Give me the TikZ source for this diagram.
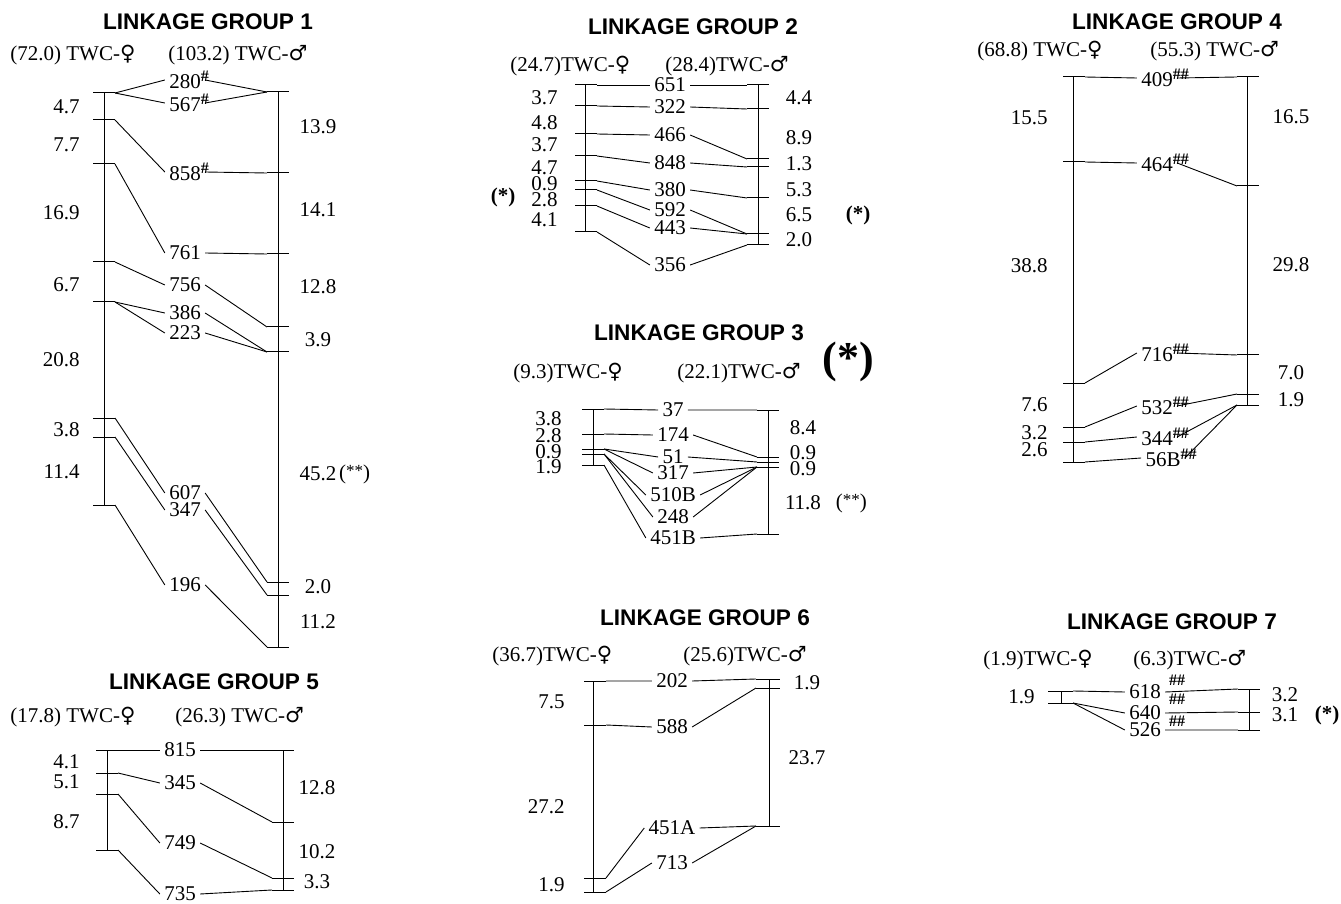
\documentclass[tikz,border=0pt]{standalone}
\usepackage{fontspec}
\setmainfont{Liberation Serif}
\newfontfamily\titlefont{Liberation Sans}
\newfontfamily\sexfont{DejaVu Sans}
\usepackage{tikz}
\usetikzlibrary{positioning}
\newcommand\femsym{{\sexfont\char"2640}}
\newcommand\malsym{{\sexfont\char"2642}}
\newcommand\onehash{\rlap{\raisebox{0.75ex}{\bfseries\fontsize{8}{9}\selectfont\#}}}
\newcommand\twohash{\rlap{\raisebox{0.75ex}{\bfseries\fontsize{8}{9}\selectfont\#\#}}}
\tikzset{
  %% -- group title --
  LG/title/.style={font=\titlefont\bfseries\fontsize{11.3}{13}\selectfont, inner sep=0pt},
  %% -- parent heading (length, sex) --
  LG/head/.style={font=\fontsize{10.5}{12}\selectfont, anchor=base west, inner sep=0pt},
  %% -- interval lengths --
  LG/fnum/.style={font=\fontsize{10.5}{12}\selectfont, anchor=east, inner sep=0pt},
  LG/mnum/.style={font=\fontsize{10.5}{12}\selectfont, inner sep=0pt},
  %% -- marker names --
  LG/mk/.style={font=\fontsize{10.5}{12}\selectfont, inner xsep=2pt, inner ysep=0.5pt},
  LG/hash/.style={font=\bfseries\fontsize{8}{9}\selectfont, inner sep=0pt},
  LG/star/.style={font=\bfseries\fontsize{10.5}{12}\selectfont, inner sep=0pt},
  LG/bigstar/.style={font=\bfseries\fontsize{22}{24}\selectfont, inner sep=0pt},
  %% -- lines --
  LG/axis/.style={line width=0.5pt},
  LG/tick/.style={line width=0.5pt},
  LG/link/.style={line width=0.45pt},
}
\newcommand\dstar{(\raisebox{.3ex}{\fontsize{8.5}{9}\selectfont**})}

\begin{document}
\begin{tikzpicture}[x=0.5pt, y=-0.5pt]
\useasboundingbox (0,0) rectangle (1341,904);

%% ---------------- Linkage group 1 ----------------
\node[LG/title] (g1t) at (208,22) {LINKAGE GROUP 1};
\node[LG/head] (g1hf) at (10,61) {(72.0) TWC-\femsym};
\node[LG/head] (g1hm) at (168,61) {(103.2) TWC-\malsym};
\draw[LG/axis] (104,93) -- (104,505);
\draw[LG/axis] (278,92) -- (278,647);
\foreach \n/\y in {a/93,b/120,c/164,d/262,e/302,f/418,g/437,h/505}{
  \coordinate (g1f\n) at (115,\y);
  \draw[LG/tick] (g1f\n) -- ++(-22,0);
}
\foreach \n/\y in {a/92,b/173,c/254,d/327,e/352,f/582,g/595,h/647}{
  \coordinate (g1m\n) at (267,\y);
  \draw[LG/tick] (g1m\n) -- ++(22,0);
}
\foreach \v/\y in {4.7/107,7.7/145,16.9/213,6.7/285,20.8/360,3.8/430,11.4/472}
  \node[LG/fnum] (g1d\y) at (80,\y) {\v};
\foreach \v/\y in {13.9/127,14.1/210,12.8/287,3.9/340,45.2/474,2.0/587,11.2/622}
  \node[LG/mnum] (g1e\y) at (318,\y) {\v};
\node[LG/mnum, anchor=west, right=1pt of g1e474] (g1ss) {\dstar};

\node[LG/mk] (k280) at (185,80)  {280\onehash};
\node[LG/mk] (k567) at (185,103) {567\onehash};
\node[LG/mk] (k858) at (185,172) {858\onehash};
\node[LG/mk] (k761) at (185,253) {761};
\node[LG/mk] (k756) at (185,285) {756};
\node[LG/mk] (k386) at (185,313) {386};
\node[LG/mk] (k223) at (185,333) {223};
\node[LG/mk] (k607) at (185,493) {607};
\node[LG/mk] (k347) at (185,510) {347};
\node[LG/mk] (k196) at (185,585) {196};

\draw[LG/link] (g1fa) -- (k280.west) (k280.east) -- (g1ma);
\draw[LG/link] (g1fa) -- (k567.west) (k567.east) -- (g1ma);
\draw[LG/link] (g1fb) -- (k858.west) (k858.east) -- (g1mb);
\draw[LG/link] (g1fc) -- (k761.west) (k761.east) -- (g1mc);
\draw[LG/link] (g1fd) -- (k756.west) (k756.east) -- (g1md);
\draw[LG/link] (g1fe) -- (k386.west) (k386.east) -- (g1me);
\draw[LG/link] (g1fe) -- (k223.west) (k223.east) -- (g1me);
\draw[LG/link] (g1ff) -- (k607.west) (k607.east) -- (g1mf);
\draw[LG/link] (g1fg) -- (k347.west) (k347.east) -- (g1mg);
\draw[LG/link] (g1fh) -- (k196.west) (k196.east) -- (g1mh);

%% ---------------- Linkage group 2 ----------------
\node[LG/title] (g2t) at (693,27) {LINKAGE GROUP 2};
\node[LG/head] (g2hf) at (510,72) {(24.7)TWC-\femsym};
\node[LG/head] (g2hm) at (665,72) {(28.4)TWC-\malsym};
\draw[LG/axis] (585,85) -- (585,232);
\draw[LG/axis] (758,85) -- (758,245);
\foreach \n/\y in {a/85,b/106,c/134,d/156,e/181,f/190,g/206,h/232}{
  \coordinate (g2f\n) at (597,\y);
  \draw[LG/tick] (g2f\n) -- ++(-22,0);
}
\foreach \n/\y in {a/85,b/109,c/159,d/167,e/198,f/234,g/245}{
  \coordinate (g2m\n) at (747,\y);
  \draw[LG/tick] (g2m\n) -- ++(22,0);
}
\foreach \v/\y in {3.7/98,4.8/123,3.7/145,4.7/168,0.9/184,2.8/200,4.1/220}
  \node[LG/fnum] (g2d\y) at (558,\y) {\v};
\foreach \v/\y in {4.4/98,8.9/138,1.3/164,5.3/190,6.5/215,2.0/240}
  \node[LG/mnum] (g2e\y) at (799,\y) {\v};
\node[LG/star] (g2sl) at (503,197) {(*)};
\node[LG/star] (g2sr) at (858,215) {(*)};

\node[LG/mk] (k651) at (670,85)  {651};
\node[LG/mk] (k322) at (670,107) {322};
\node[LG/mk] (k466) at (670,135) {466};
\node[LG/mk] (k848) at (670,163) {848};
\node[LG/mk] (k380) at (670,190) {380};
\node[LG/mk] (k592) at (670,210) {592};
\node[LG/mk] (k443) at (670,228) {443};
\node[LG/mk] (k356) at (670,265) {356};

\draw[LG/link] (g2fa) -- (k651.west) (k651.east) -- (g2ma);
\draw[LG/link] (g2fb) -- (k322.west) (k322.east) -- (g2mb);
\draw[LG/link] (g2fc) -- (k466.west) (k466.east) -- (g2mc);
\draw[LG/link] (g2fd) -- (k848.west) (k848.east) -- (g2md);
\draw[LG/link] (g2fe) -- (k380.west) (k380.east) -- (g2me);
\draw[LG/link] (g2ff) -- (k592.west) (k592.east) -- (g2mf);
\draw[LG/link] (g2fg) -- (k443.west) (k443.east) -- (g2mf);
\draw[LG/link] (g2fh) -- (k356.west) (k356.east) -- (g2mg);

%% ---------------- Linkage group 3 ----------------
\node[LG/title] (g3t) at (699,333) {LINKAGE GROUP 3};
\node[LG/bigstar] (g3big) at (848,362) {(*)};
\node[LG/head] (g3hf) at (513,379) {(9.3)TWC-\femsym};
\node[LG/head] (g3hm) at (677,379) {(22.1)TWC-\malsym};
\draw[LG/axis] (593,409) -- (593,465);
\draw[LG/axis] (768,410) -- (768,534);
\foreach \n/\y in {a/409,b/434,c/449,d/454,e/465}{
  \coordinate (g3f\n) at (604,\y);
  \draw[LG/tick] (g3f\n) -- ++(-22,0);
}
\foreach \n/\y in {a/410,b/457,c/462,d/467,e/534}{
  \coordinate (g3m\n) at (757,\y);
  \draw[LG/tick] (g3m\n) -- ++(22,0);
}
\foreach \v/\y in {3.8/419,2.8/436,0.9/452,1.9/467}
  \node[LG/fnum] (g3d\y) at (562,\y) {\v};
\foreach \v/\y in {8.4/428,0.9/453,0.9/469,11.8/503}
  \node[LG/mnum] (g3e\y) at (803,\y) {\v};
\node[LG/mnum, anchor=west, right=7pt of g3e503] (g3ss) {\dstar};

\node[LG/mk] (k37)   at (673,410) {37};
\node[LG/mk] (k174)  at (673,435) {174};
\node[LG/mk] (k51)   at (673,457) {51};
\node[LG/mk] (k317)  at (673,473) {317};
\node[LG/mk] (k510B) at (673,495) {510B};
\node[LG/mk] (k248)  at (673,517) {248};
\node[LG/mk] (k451B) at (673,538) {451B};

\draw[LG/link] (g3fa) -- (k37.west) (k37.east) -- (g3ma);
\draw[LG/link] (g3fb) -- (k174.west) (k174.east) -- (g3mb);
\draw[LG/link] (g3fc) -- (k51.west) (k51.east) -- (g3mc);
\draw[LG/link] (g3fc) -- (k317.west) (k317.east) -- (g3md);
\draw[LG/link] (g3fd) -- (k510B.west) (k510B.east) -- (g3md);
\draw[LG/link] (g3fd) -- (k248.west) (k248.east) -- (g3md);
\draw[LG/link] (g3fe) -- (k451B.west) (k451B.east) -- (g3me);

%% ---------------- Linkage group 4 ----------------
\node[LG/title] (g4t) at (1177,22) {LINKAGE GROUP 4};
\node[LG/head] (g4hf) at (977,57) {(68.8) TWC-\femsym};
\node[LG/head] (g4hm) at (1150,57) {(55.3) TWC-\malsym};
\draw[LG/axis] (1073,77) -- (1073,462);
\draw[LG/axis] (1247,77) -- (1247,405);
\foreach \n/\y in {a/77,b/162,c/383,d/427,e/442,f/462}{
  \coordinate (g4f\n) at (1085,\y);
  \draw[LG/tick] (g4f\n) -- ++(-22,0);
}
\foreach \n/\y in {a/77,b/186,c/355,d/394,e/405}{
  \coordinate (g4m\n) at (1237,\y);
  \draw[LG/tick] (g4m\n) -- ++(22,0);
}
\foreach \v/\y in {15.5/118,38.8/266,7.6/405,3.2/433,2.6/450}
  \node[LG/fnum] (g4d\y) at (1048,\y) {\v};
\foreach \v/\y in {16.5/117,29.8/265,7.0/373,1.9/400}
  \node[LG/mnum] (g4e\y) at (1291,\y) {\v};

\node[LG/mk] (k409) at (1157,78)  {409\twohash};
\node[LG/mk] (k464) at (1157,163) {464\twohash};
\node[LG/mk] (k716) at (1157,353) {716\twohash};
\node[LG/mk] (k532) at (1157,406) {532\twohash};
\node[LG/mk] (k344) at (1157,437) {344\twohash};
\node[LG/mk] (k56B) at (1163,458) {56B\twohash};

\draw[LG/link] (g4fa) -- (k409.west) (k409.east) -- (g4ma);
\draw[LG/link] (g4fb) -- (k464.west) (k464.east) -- (g4mb);
\draw[LG/link] (g4fc) -- (k716.west) (k716.east) -- (g4mc);
\draw[LG/link] (g4fd) -- (k532.west) (k532.east) -- (g4md);
\draw[LG/link] (g4fe) -- (k344.west) (k344.east) -- (g4me);
\draw[LG/link] (g4ff) -- (k56B.west) (k56B.east) -- (g4me);

%% ---------------- Linkage group 5 ----------------
\node[LG/title] (g5t) at (214,682) {LINKAGE GROUP 5};
\node[LG/head] (g5hf) at (10,722) {(17.8) TWC-\femsym};
\node[LG/head] (g5hm) at (175,722) {(26.3) TWC-\malsym};
\draw[LG/axis] (107,750) -- (107,850);
\draw[LG/axis] (283,750) -- (283,890);
\foreach \n/\y in {a/750,b/773,c/794,d/850}{
  \coordinate (g5f\n) at (118,\y);
  \draw[LG/tick] (g5f\n) -- ++(-22,0);
}
\foreach \n/\y in {a/750,b/822,c/878,d/890}{
  \coordinate (g5m\n) at (272,\y);
  \draw[LG/tick] (g5m\n) -- ++(22,0);
}
\foreach \v/\y in {4.1/762,5.1/782,8.7/822}
  \node[LG/fnum] (g5d\y) at (80,\y) {\v};
\foreach \v/\y in {12.8/788,10.2/852,3.3/882}
  \node[LG/mnum] (g5e\y) at (317,\y) {\v};

\node[LG/mk] (k815) at (180,750) {815};
\node[LG/mk] (k345) at (180,783) {345};
\node[LG/mk] (k749) at (180,843) {749};
\node[LG/mk] (k735) at (180,894) {735};

\draw[LG/link] (g5fa) -- (k815.west) (k815.east) -- (g5ma);
\draw[LG/link] (g5fb) -- (k345.west) (k345.east) -- (g5mb);
\draw[LG/link] (g5fc) -- (k749.west) (k749.east) -- (g5mc);
\draw[LG/link] (g5fd) -- (k735.west) (k735.east) -- (g5md);

%% ---------------- Linkage group 6 ----------------
\node[LG/title] (g6t) at (705,618) {LINKAGE GROUP 6};
\node[LG/head] (g6hf) at (492,661) {(36.7)TWC-\femsym};
\node[LG/head] (g6hm) at (683,661) {(25.6)TWC-\malsym};
\draw[LG/axis] (593,681) -- (593,892);
\draw[LG/axis] (769,679) -- (769,826);
\foreach \n/\y in {a/681,b/725,c/878,d/892}{
  \coordinate (g6f\n) at (606,\y);
  \draw[LG/tick] (g6f\n) -- ++(-22,0);
}
\foreach \n/\y in {a/679,b/688,c/826}{
  \coordinate (g6m\n) at (756,\y);
  \draw[LG/tick] (g6m\n) -- ++(24,0);
}
\foreach \v/\y in {7.5/702,27.2/807,1.9/885}
  \node[LG/fnum] (g6d\y) at (565,\y) {\v};
\foreach \v/\y in {1.9/683,23.7/758}
  \node[LG/mnum] (g6e\y) at (807,\y) {\v};

\node[LG/mk] (k202)  at (672,681) {202};
\node[LG/mk] (k588)  at (672,727) {588};
\node[LG/mk] (k451A) at (672,828) {451A};
\node[LG/mk] (k713)  at (672,863) {713};

\draw[LG/link] (g6fa) -- (k202.west) (k202.east) -- (g6ma);
\draw[LG/link] (g6fb) -- (k588.west) (k588.east) -- (g6mb);
\draw[LG/link] (g6fc) -- (k451A.west) (k451A.east) -- (g6mc);
\draw[LG/link] (g6fd) -- (k713.west) (k713.east) -- (g6mc);

%% ---------------- Linkage group 7 ----------------
\node[LG/title] (g7t) at (1172,622) {LINKAGE GROUP 7};
\node[LG/head] (g7hf) at (983,665) {(1.9)TWC-\femsym};
\node[LG/head] (g7hm) at (1133,665) {(6.3)TWC-\malsym};
\draw[LG/axis] (1061,691) -- (1061,703);
\draw[LG/axis] (1249,689) -- (1249,730);
\foreach \n/\y in {a/691,b/703}{
  \coordinate (g7f\n) at (1073,\y);
  \draw[LG/tick] (g7f\n) -- ++(-25,0);
}
\foreach \n/\y in {a/689,b/712,c/730}{
  \coordinate (g7m\n) at (1238,\y);
  \draw[LG/tick] (g7m\n) -- ++(22,0);
}
\node[LG/fnum] (g7d697) at (1035,697) {1.9};
\foreach \v/\y in {3.2/695,3.1/715}
  \node[LG/mnum] (g7e\y) at (1285,\y) {\v};
\node[LG/star] (g7sr) at (1327,715) {(*)};

\node[LG/mk] (k618) at (1145,692) {618};
\node[LG/mk] (k640) at (1145,713) {640};
\node[LG/mk] (k526) at (1145,730) {526};
\node[LG/hash] (g7s1) at (1177,680) {\#\#};
\node[LG/hash] (g7s2) at (1177,699) {\#\#};
\node[LG/hash] (g7s3) at (1177,721) {\#\#};

\draw[LG/link] (g7fa) -- (k618.west) (k618.east) -- (g7ma);
\draw[LG/link] (g7fb) -- (k640.west) (k640.east) -- (g7mb);
\draw[LG/link] (g7fb) -- (k526.west) (k526.east) -- (g7mc);
\end{tikzpicture}
\end{document}
